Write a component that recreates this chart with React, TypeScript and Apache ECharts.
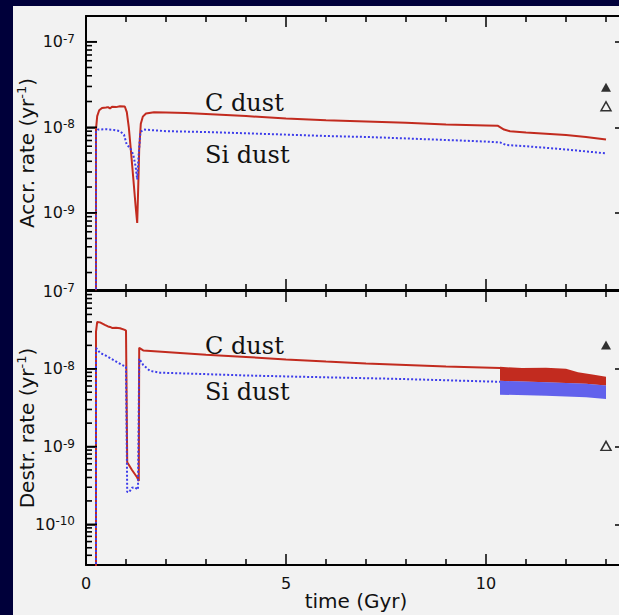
import React, { useEffect, useRef } from 'react';
import * as echarts from 'echarts';

// ---- tick definitions ----
const xMajorTicks = [0, 5, 10];
const xMinorTicks = [1, 2, 3, 4, 6, 7, 8, 9, 11, 12, 13];
const yDecadeExponents = [-10, -9, -8, -7];
const yMinorDecadeExponents = [-11, -10, -9, -8, -7];
const yMinorMultipliers = [2, 3, 4, 5, 6, 7, 8, 9];

// ---- data: accretion rate (top panel), [time Gyr, rate yr^-1] ----
const accrC: [number, number][] = [
  [0.25, 1e-12], [0.25, 9.5e-9], [0.28, 1.35e-8], [0.33, 1.58e-8], [0.4, 1.68e-8],
  [0.5, 1.7e-8], [0.55, 1.72e-8], [0.6, 1.66e-8], [0.65, 1.74e-8], [0.75, 1.72e-8],
  [0.85, 1.76e-8], [0.97, 1.75e-8], [1.02, 1.5e-8], [1.07, 1.0e-8], [1.12, 5.5e-9],
  [1.18, 2.6e-9], [1.24, 1.2e-9], [1.28, 7.6e-10], [1.3, 1.6e-9], [1.33, 5.5e-9],
  [1.37, 1.1e-8], [1.42, 1.33e-8], [1.5, 1.45e-8], [1.7, 1.5e-8], [2.0, 1.49e-8],
  [2.5, 1.47e-8], [3.0, 1.43e-8], [4.0, 1.35e-8], [5.0, 1.27e-8], [6.0, 1.21e-8],
  [7.0, 1.17e-8], [8.0, 1.13e-8], [9.0, 1.08e-8], [10.0, 1.05e-8], [10.3, 1.04e-8],
  [10.45, 9.4e-9], [10.6, 9.0e-9], [11.0, 8.7e-9], [11.5, 8.4e-9], [12.0, 8.1e-9],
  [12.5, 7.7e-9], [13.0, 7.2e-9],
];
const accrSi: [number, number][] = [
  [0.25, 1e-12], [0.25, 9.0e-9], [0.3, 9.4e-9], [0.5, 9.5e-9], [0.7, 9.3e-9],
  [0.85, 9.0e-9], [0.95, 8.2e-9], [1.02, 6.2e-9], [1.1, 5.8e-9], [1.18, 4.8e-9],
  [1.24, 3.5e-9], [1.28, 2.45e-9], [1.32, 5.0e-9], [1.36, 8.8e-9], [1.45, 9.4e-9],
  [2.0, 9.0e-9], [3.0, 8.8e-9], [4.0, 8.5e-9], [5.0, 8.2e-9], [6.0, 7.9e-9],
  [7.0, 7.7e-9], [8.0, 7.4e-9], [9.0, 7.1e-9], [10.0, 6.8e-9], [10.35, 6.65e-9],
  [10.5, 6.2e-9], [11.0, 6.0e-9], [12.0, 5.5e-9], [13.0, 4.95e-9],
];
const accrObsFilled: [number, number][] = [[13.0, 2.94e-8]];
const accrObsOpen: [number, number][] = [[13.0, 1.76e-8]];

// ---- data: destruction rate (bottom panel) ----
const destrC: [number, number][] = [
  [0.25, 1e-12], [0.25, 3.0e-8], [0.28, 4.0e-8], [0.35, 3.95e-8], [0.47, 3.67e-8],
  [0.55, 3.5e-8], [0.6, 3.45e-8], [0.65, 3.35e-8], [0.75, 3.38e-8], [0.85, 3.32e-8],
  [0.97, 3.16e-8], [1.0, 3.1e-8], [1.03, 6.3e-10], [1.15, 5.0e-10], [1.28, 4.0e-10],
  [1.32, 3.6e-10], [1.33, 1.86e-8], [1.43, 1.72e-8], [2.35, 1.6e-8], [3.0, 1.52e-8],
  [4.0, 1.42e-8], [5.0, 1.32e-8], [6.0, 1.24e-8], [7.0, 1.17e-8], [8.0, 1.12e-8],
  [9.0, 1.07e-8], [10.35, 1.02e-8],
];
const destrSi: [number, number][] = [
  [0.25, 1e-12], [0.25, 1.86e-8], [0.35, 1.6e-8], [0.47, 1.5e-8], [0.68, 1.3e-8],
  [0.9, 1.12e-8], [1.0, 1.06e-8], [1.03, 2.6e-10], [1.08, 2.6e-10], [1.15, 2.95e-10],
  [1.22, 3.0e-10], [1.3, 2.8e-10], [1.33, 1.35e-8], [1.43, 1.12e-8], [1.6, 9.4e-9],
  [1.85, 8.9e-9], [2.5, 8.7e-9], [4.0, 8.2e-9], [5.35, 7.9e-9], [7.85, 7.4e-9],
  [10.35, 6.8e-9],
];
// late-time oscillating envelopes (upper / lower edges)
const destrCBandUpper: [number, number][] = [
  [10.35, 1.06e-8], [10.9, 1.02e-8], [11.5, 1.03e-8], [12.0, 1.0e-8], [12.3, 9.0e-9],
  [12.7, 8.4e-9], [13.0, 7.9e-9],
];
const destrCBandLower: [number, number][] = [
  [10.35, 7.0e-9], [11.5, 6.7e-9], [12.5, 6.4e-9], [13.0, 6.1e-9],
];
const destrSiBandUpper: [number, number][] = [
  [10.35, 7.0e-9], [11.5, 6.7e-9], [12.5, 6.4e-9], [13.0, 6.1e-9],
];
const destrSiBandLower: [number, number][] = [
  [10.35, 4.65e-9], [11.5, 4.5e-9], [12.5, 4.3e-9], [13.0, 4.1e-9],
];
const destrObsFilled: [number, number][] = [[13.0, 2.02e-8]];
const destrObsOpen: [number, number][] = [[13.0, 1.02e-9]];

// ---- axis ranges (rates) ----
const accrRange: [number, number] = [1.25e-10, 2e-7];
const destrRange: [number, number] = [3e-11, 1e-7];

const RED = '#c22b1f';
const BLUE = '#3d3dea';
const INK = '#111111';
const FONT = 'DejaVu Sans';
const SERIF = 'DejaVu Serif';

// the vertical axes are drawn in log10 space
const lg = (v: number) => Math.log10(v);
const toLog = (d: [number, number][]) => d.map(([t, v]) => [t, lg(v)] as [number, number]);

const yMinorTicks: number[] = [];
yMinorDecadeExponents.forEach((e) => yMinorMultipliers.forEach((k) => yMinorTicks.push(e + Math.log10(k))));

const supRich = {
  sup: { fontSize: 12, fontFamily: FONT, color: INK, verticalAlign: 'top', lineHeight: 11 },
};
const nameRich = {
  sup: { fontSize: 13, fontFamily: FONT, color: INK, verticalAlign: 'top', lineHeight: 12 },
};

function decadeLabel(v: number) {
  const r = Math.round(v);
  if (Math.abs(v - r) > 1e-6) return '';
  return '10{sup|' + r + '}';
}

const lineAx = { show: true, onZero: false, lineStyle: { color: '#000', width: 2 } };
const noLine = { show: false, onZero: false };

function xAxes(grid: number, showLabels: boolean) {
  const base = { type: 'value', gridIndex: grid, min: 0, max: 13.5, offset: 0, splitLine: { show: false } };
  const major = (position: string, withLabels: boolean) => ({
    ...base,
    position,
    axisLine: lineAx,
    axisTick: { show: true, inside: true, length: 11, customValues: xMajorTicks, lineStyle: { color: '#000', width: 1.5 } },
    axisLabel: withLabels
      ? { show: true, customValues: xMajorTicks, margin: 10, fontSize: 16, fontFamily: FONT, color: INK }
      : { show: false },
    ...(withLabels
      ? {
          name: 'time (Gyr)',
          nameLocation: 'middle',
          nameGap: 26,
          nameMoveOverlap: false,
          nameTextStyle: { fontSize: 20, fontFamily: FONT, color: INK },
        }
      : {}),
  });
  const minor = (position: string) => ({
    ...base,
    position,
    axisLine: noLine,
    axisTick: { show: true, inside: true, length: 6, customValues: xMinorTicks, lineStyle: { color: '#000', width: 1.5 } },
    axisLabel: { show: false },
  });
  return [major('bottom', showLabels), minor('bottom'), major('top', false), minor('top')];
}

function yAxes(grid: number, range: [number, number], name: string) {
  const base = { type: 'value', gridIndex: grid, min: lg(range[0]), max: lg(range[1]), offset: 0, splitLine: { show: false } };
  return [
    {
      ...base,
      position: 'left',
      axisLine: lineAx,
      axisTick: { show: true, inside: true, length: 11, customValues: yDecadeExponents, lineStyle: { color: '#000', width: 1.5 } },
      axisLabel: {
        show: true,
        customValues: yDecadeExponents,
        margin: 11,
        fontSize: 16,
        lineHeight: 18,
        fontFamily: FONT,
        color: INK,
        formatter: decadeLabel,
        rich: supRich,
      },
      name,
      nameLocation: 'middle',
      nameRotate: 90,
      nameGap: 47,
      nameMoveOverlap: false,
      nameTextStyle: { fontSize: 20, lineHeight: 24, fontFamily: FONT, color: INK, rich: nameRich },
    },
    {
      ...base,
      position: 'right',
      axisLine: lineAx,
      axisTick: { show: true, inside: true, length: 11, customValues: yDecadeExponents, lineStyle: { color: '#000', width: 1.5 } },
      axisLabel: { show: false },
    },
  ];
}

function lineSeries(data: [number, number][], grid: number, color: string, dotted: boolean) {
  return {
    type: 'line',
    xAxisIndex: grid * 4,
    yAxisIndex: grid * 2,
    data: toLog(data),
    symbol: 'none',
    showSymbol: false,
    silent: true,
    clip: true,
    z: dotted ? 4 : 3,
    lineStyle: dotted ? { color, width: 2, type: [2, 2] } : { color, width: 2 },
  };
}

// builds inward-pointing tick marks on the left frame edge through the y scale
function leftTickEls(api: any, range: [number, number], values: number[], len: number, width: number) {
  const lo = lg(range[0]);
  const hi = lg(range[1]);
  return values
    .filter((v) => v >= lo - 1e-9 && v <= hi + 1e-9)
    .map((v) => {
      const p = api.coord([0, v]);
      return {
        type: 'line',
        z2: 50,
        shape: { x1: p[0], y1: p[1], x2: p[0] + len, y2: p[1] },
        style: { stroke: '#000', lineWidth: width, fill: null },
      };
    });
}

// custom series: one item that draws a frame's worth of left-edge ticks (and optional band)
function frameSeries(
  grid: number,
  range: [number, number],
  bands: { upper: [number, number][]; lower: [number, number][]; color: string; opacity: number }[],
) {
  const mid = (lg(range[0]) + lg(range[1])) / 2;
  return {
    type: 'custom',
    xAxisIndex: grid * 4,
    yAxisIndex: grid * 2,
    data: [[6, mid]],
    silent: true,
    clip: false,
    z: 8,
    renderItem: (_params: any, api: any) => {
      const children: any[] = [];
      bands.forEach((b) => {
        const up = toLog(b.upper);
        const lo = toLog(b.lower);
        const pts = up.map((p) => api.coord(p)).concat(lo.slice().reverse().map((p) => api.coord(p)));
        children.push({ type: 'polygon', shape: { points: pts }, style: { fill: b.color, opacity: b.opacity } });
      });
      leftTickEls(api, range, yMinorTicks, 6, 1.6).forEach((c) => children.push(c));
      leftTickEls(api, range, yDecadeExponents, 11, 1.6).forEach((c) => children.push(c));
      return { type: 'group', children };
    },
  };
}

function triSeries(data: [number, number][], grid: number, filled: boolean) {
  return {
    type: 'scatter',
    xAxisIndex: grid * 4,
    yAxisIndex: grid * 2,
    data: toLog(data),
    symbol: 'triangle',
    symbolSize: [10, 9],
    silent: true,
    z: 9,
    itemStyle: filled ? { color: '#000' } : { color: '#f2f2f2', borderColor: '#000', borderWidth: 1.5 },
  };
}

function textEl(text: string, x: number, y: number) {
  return {
    type: 'text',
    x,
    y,
    z: 10,
    style: { text, fontSize: 24, fontFamily: SERIF, fill: '#111', textAlign: 'left', textVerticalAlign: 'middle' },
  };
}

export default function App() {
  const ref = useRef<HTMLDivElement>(null);
  useEffect(() => {
    if (!ref.current) return;
    const chart = echarts.init(ref.current, undefined, { renderer: 'svg' });
    const option: any = {
      animation: false,
      backgroundColor: 'transparent',
      graphic: [
        textEl('C dust', 205, 103),
        textEl('Si dust', 205, 155),
        textEl('C dust', 205, 346),
        textEl('Si dust', 205, 392),
      ],
      grid: [
        { left: 86, top: 16, width: 540, height: 274, outerBoundsMode: 'none', containLabel: false },
        { left: 86, top: 291, width: 540, height: 274, outerBoundsMode: 'none', containLabel: false },
      ],
      xAxis: [...xAxes(0, false), ...xAxes(1, true)],
      yAxis: [
        ...yAxes(0, accrRange, 'Accr. rate (yr{sup|-1})'),
        ...yAxes(1, destrRange, 'Destr. rate (yr{sup|-1})'),
      ],
      series: [
        lineSeries(accrC, 0, RED, false),
        lineSeries(accrSi, 0, BLUE, true),
        frameSeries(0, accrRange, []),
        triSeries(accrObsFilled, 0, true),
        triSeries(accrObsOpen, 0, false),
        lineSeries(destrC, 1, RED, false),
        lineSeries(destrSi, 1, BLUE, true),
        frameSeries(1, destrRange, [
          { upper: destrCBandUpper, lower: destrCBandLower, color: RED, opacity: 1 },
          { upper: destrSiBandUpper, lower: destrSiBandLower, color: BLUE, opacity: 0.8 },
        ]),
        triSeries(destrObsFilled, 1, true),
        triSeries(destrObsOpen, 1, false),
      ],
    };
    chart.setOption(option);
    return () => chart.dispose();
  }, []);
  return (
    <div style={{ position: 'absolute', left: 0, top: 0, width: 619, height: 615, background: '#00003a', overflow: 'hidden' }}>
      <div style={{ position: 'absolute', left: 13, top: 6, right: 0, bottom: 0, background: '#f2f2f2' }} />
      <div ref={ref} style={{ position: 'absolute', left: 0, top: 0, width: 619, height: 615 }} />
    </div>
  );
}
